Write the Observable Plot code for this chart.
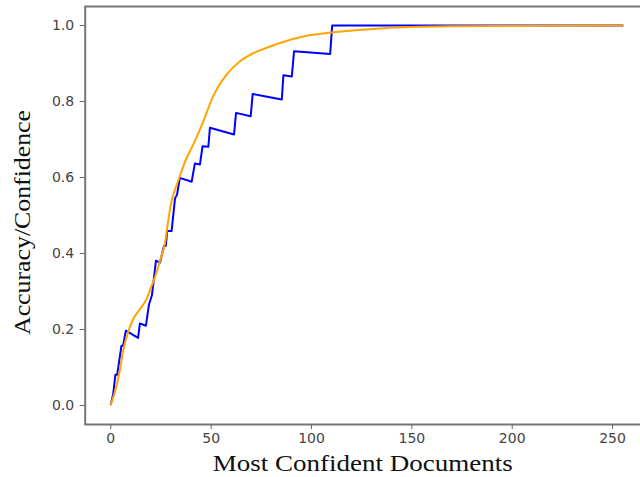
<!DOCTYPE html>
<html><head><meta charset="utf-8">
<script src="https://cdn.jsdelivr.net/npm/d3@7"></script>
<script src="https://cdn.jsdelivr.net/npm/@observablehq/plot@0.6"></script>
<style>
html,body{margin:0;padding:0;overflow:hidden;background:#fff;width:640px;height:477px}
#chart{width:660px}
#chart svg{display:block;max-width:none !important;width:660px;height:477px}
g[aria-label="x-axis label"] text{font-family:"Liberation Serif","Times New Roman",serif;font-size:23px;fill:#111}
g[aria-label="y-axis label"] text{font-family:"Liberation Serif","Times New Roman",serif;font-size:23px;fill:#111}
</style></head><body><div id="chart"></div>
<script>
// Accuracy (blue) — top-k documents
const accX = [0, 1.2, 2.3, 3.2, 5.3, 6.1, 7.5, 13.6, 14.5, 17.5, 19, 20.5, 22.5, 24.5, 26.5, 27.4, 28.1, 30.3, 32, 33, 34.4, 40.3, 41.9, 44.4, 45.7, 48.6, 49.4, 61.4, 62.4, 69.7, 70.7, 85.2, 86, 90.2, 91.3, 109.3, 110.3, 255];
const accY = [0.003, 0.03, 0.081, 0.081, 0.157, 0.157, 0.197, 0.178, 0.216, 0.21, 0.265, 0.29, 0.381, 0.376, 0.42, 0.42, 0.459, 0.459, 0.545, 0.555, 0.599, 0.589, 0.637, 0.634, 0.682, 0.681, 0.731, 0.713, 0.770, 0.761, 0.820, 0.805, 0.869, 0.866, 0.932, 0.925, 1.0, 1.0];
// Confidence (orange)
const confX = [0, 2, 4.5, 6, 7.8, 11.1, 14, 17.8, 20, 22.8, 25, 26.9, 28.6, 30.3, 32.5, 34.4, 37.5, 41.1, 46.1, 51, 57.7, 64.4, 71, 77, 84.3, 97.6, 110.9, 125, 135.9, 150, 169, 200, 255];
const confY = [0.003, 0.035, 0.092, 0.14, 0.179, 0.227, 0.25, 0.28, 0.31, 0.35, 0.39, 0.424, 0.486, 0.538, 0.575, 0.604, 0.648, 0.687, 0.748, 0.814, 0.871, 0.906, 0.927, 0.94, 0.954, 0.973, 0.982, 0.989, 0.993, 0.996, 0.998, 0.999, 1.0];
const xTicks = [0, 50, 100, 150, 200, 250];
const yTicks = [0, 0.2, 0.4, 0.6, 0.8, 1.0];
const xLabel = "Most Confident Documents";
const yLabel = "Accuracy/Confidence";

const acc = accX.map((x, i) => ({x, y: accY[i]}));
const conf = confX.map((x, i) => ({x, y: confY[i]}));

const chart = Plot.plot({
  width: 660, height: 477,
  marginLeft: 84.7, marginRight: 12.3, marginTop: 6, marginBottom: 53,
  x: {domain: [-12.75, 267.75]},
  y: {domain: [-0.05, 1.05]},
  style: {fontFamily: "DejaVu Sans", fontSize: "14px", color: "#444", background: "white"},
  marks: [
    Plot.line(acc, {x: "x", y: "y", stroke: "#0000ff", strokeWidth: 2}),
    Plot.line(conf, {x: "x", y: "y", stroke: "#ffa500", strokeWidth: 2, curve: "monotone-x"}),
    Plot.frame({stroke: "#777", strokeWidth: 2}),
    Plot.axisX({ticks: xTicks, tickSize: 5, tickPadding: 4, tickFormat: d => String(d), stroke: "#666",
      label: xLabel, labelAnchor: "center", labelArrow: "none", labelOffset: 46}),
    Plot.axisY({ticks: yTicks, tickSize: 5, tickPadding: 6, tickFormat: d3.format(".1f"), stroke: "#666",
      label: yLabel, labelAnchor: "center", labelArrow: "none", labelOffset: 72})
  ]
});
// widen the serif axis labels to match the reference's letterforms and placement
const xl = chart.querySelector('g[aria-label="x-axis label"] text');
if (xl) { xl.setAttribute("textLength", 300); xl.setAttribute("lengthAdjust", "spacingAndGlyphs"); xl.setAttribute("dx", -4); }
const yl = chart.querySelector('g[aria-label="y-axis label"] text');
if (yl) { yl.setAttribute("textLength", 225); yl.setAttribute("lengthAdjust", "spacingAndGlyphs"); yl.setAttribute("dx", -7); }
document.getElementById("chart").appendChild(chart);
</script></body></html>
